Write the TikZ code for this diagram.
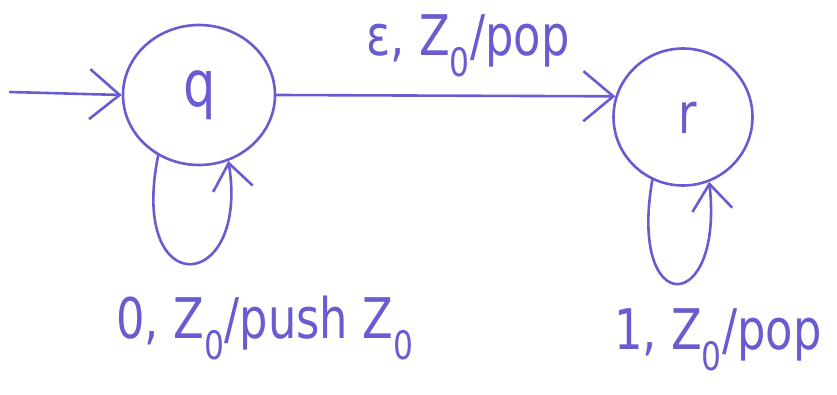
\documentclass[tikz,border=0pt]{standalone}
\usepackage{fontspec}
\setmainfont{DejaVu Sans}
\usetikzlibrary{arrows.meta,shapes.geometric}
\definecolor{ink}{RGB}{104,92,208}
\newcommand{\zsub}{Z\textsubscript{0}}
\begin{document}
\begin{tikzpicture}[x=1pt,y=-1pt,
  ink line/.style={draw=ink, line width=2.6pt, line cap=round, line join=round},
  state/.style={ellipse, ink line, inner sep=0pt},
  barb/.style={-{Straight Barb[length=30pt,width=50pt,line width=2.6pt]}},
  small barb/.style={-{Straight Barb[length=26pt,width=40pt,line width=2.6pt]}},
  lbl/.style={text=ink, inner sep=0pt, font=\fontsize{56}{60}\selectfont\addfontfeatures{FakeStretch=0.8}}]
  \useasboundingbox (0,0) rectangle (837,395);

  % states
  \node[state, minimum width=152pt, minimum height=140pt] (q) at (199,95) {};
  \node[state, minimum width=139pt, minimum height=137pt] (r) at (683,117) {};
  \node[lbl] (qlab) at (200,95) {\fontsize{64}{68}\selectfont q};
  \node[lbl] (rlab) at (688,118) {r};

  % start arrow
  \coordinate (start) at (10,92);
  \draw[ink line, barb] (start) -- (q.west);

  % transition q -> r
  \draw[ink line, barb] (q.east) -- (r.163);
  \node[lbl] (elab) at (468,46) {ε, \zsub/pop};

  % self loops
  \draw[ink line, small barb] (q.236) .. controls (128,304) and (250,294) .. (q.294);
  \node[lbl] (qloop) at (265,328) {0, \zsub/push \zsub};

  \draw[ink line, small barb] (r.244) .. controls (628,320) and (724,316) .. (r.292);
  \node[lbl] (rloop) at (718,340) {1, \zsub/pop};
\end{tikzpicture}
\end{document}
